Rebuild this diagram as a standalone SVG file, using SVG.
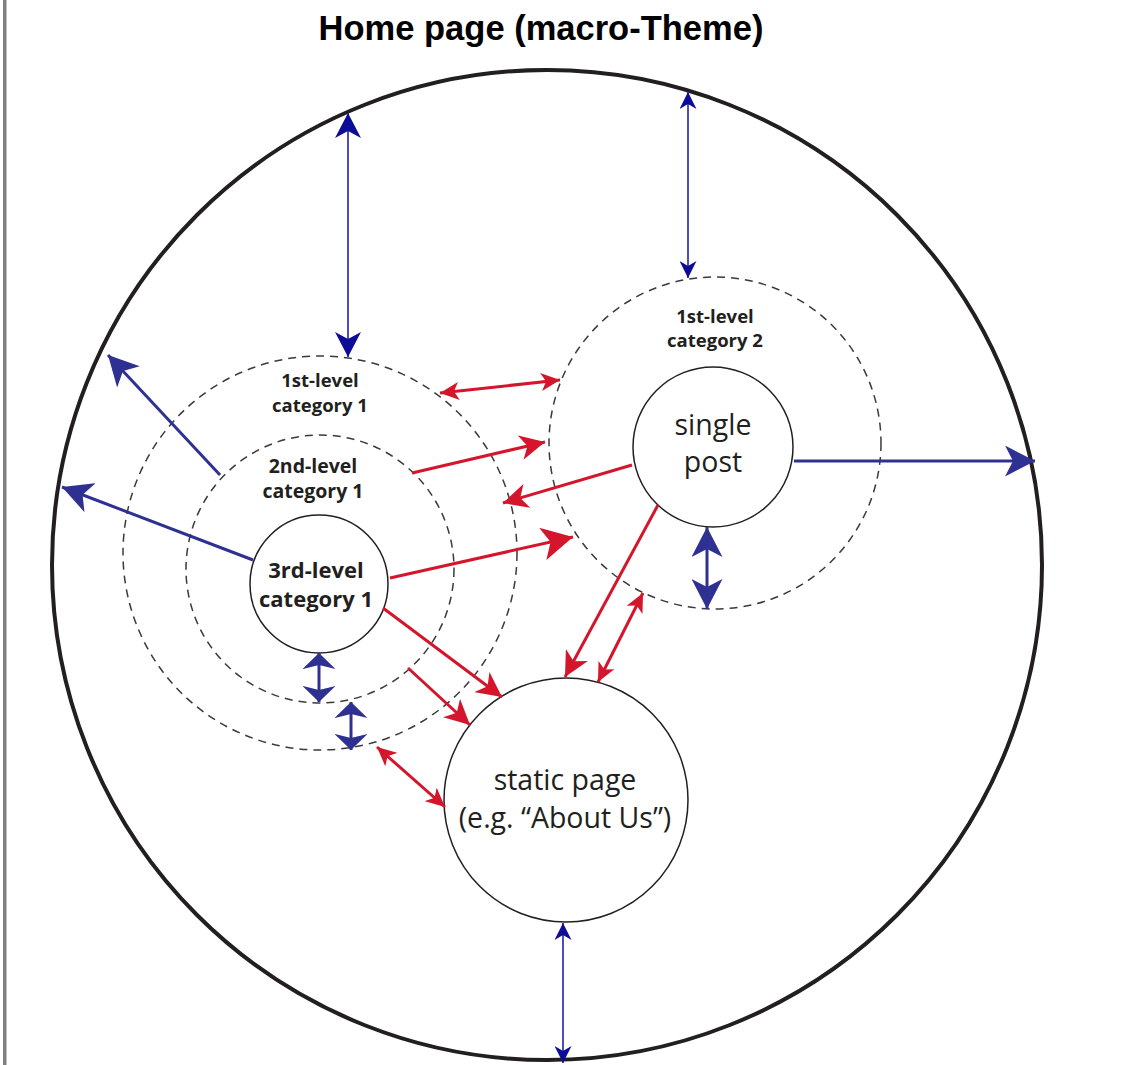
<svg xmlns="http://www.w3.org/2000/svg" width="1125" height="1065" viewBox="0 0 1125 1065">
<style>
.bg{fill:#ffffff}
.main{fill:none;stroke:#231f20;stroke-width:4}
.dash{fill:none;stroke:#3a3a3a;stroke-width:1.5;stroke-dasharray:8 6}
.node{fill:#ffffff;stroke:#231f20;stroke-width:1.5}
.title{font-family:"Liberation Sans",Arial,sans-serif;font-weight:bold;font-size:34.5px;fill:#000;text-anchor:middle}
.lbl{font-family:"Open Sans","Noto Sans",sans-serif;font-weight:bold;fill:#231f20;text-anchor:middle}
.reg{font-family:"Open Sans","Noto Sans",sans-serif;font-size:28.5px;fill:#231f20;text-anchor:middle}
.bt{fill:none;stroke:#2e3192;stroke-width:3}
.bn{fill:none;stroke:#3a3ab4;stroke-width:1.8}
.rd{fill:none;stroke:#d4152b;stroke-width:3}
</style>
<defs>
<marker id="bb" markerUnits="userSpaceOnUse" markerWidth="30" markerHeight="31" viewBox="0 0 30 31" refX="30" refY="15.5" orient="auto-start-reverse"><path d="M30,15.5 L0,0 L8,15.5 L0,31 Z" fill="#2e3192"/></marker>
<marker id="bs" markerUnits="userSpaceOnUse" markerWidth="16" markerHeight="33" viewBox="0 0 16 33" refX="16" refY="16.5" orient="auto-start-reverse"><path d="M16,16.5 L0,0 L4,16.5 L0,33 Z" fill="#2e3192"/></marker>
<marker id="tb" markerUnits="userSpaceOnUse" markerWidth="25" markerHeight="26" viewBox="0 0 25 26" refX="25" refY="13" orient="auto-start-reverse"><path d="M25,13 L0,0 L7,13 L0,26 Z" fill="#0c0c96"/></marker>
<marker id="ts" markerUnits="userSpaceOnUse" markerWidth="17" markerHeight="17" viewBox="0 0 17 17" refX="17" refY="8.5" orient="auto-start-reverse"><path d="M17,8.5 L0,0 L5,8.5 L0,17 Z" fill="#0c0c96"/></marker>
<marker id="rs" markerUnits="userSpaceOnUse" markerWidth="19" markerHeight="18" viewBox="0 0 19 18" refX="19" refY="9" orient="auto-start-reverse"><path d="M19,9 L0,0 L5,9 L0,18 Z" fill="#d4152b"/></marker>
<marker id="rm" markerUnits="userSpaceOnUse" markerWidth="25" markerHeight="25" viewBox="0 0 25 25" refX="25" refY="12.5" orient="auto-start-reverse"><path d="M25,12.5 L0,0 L7,12.5 L0,25 Z" fill="#d4152b"/></marker>
<marker id="rb" markerUnits="userSpaceOnUse" markerWidth="31" markerHeight="33" viewBox="0 0 31 33" refX="31" refY="16.5" orient="auto-start-reverse"><path d="M31,16.5 L0,0 L8,16.5 L0,33 Z" fill="#d4152b"/></marker>
</defs>
<rect class="bg" x="0" y="0" width="1125" height="1065"/>
<rect x="3" y="0" width="3.5" height="1065" fill="#808080"/>
<text class="title" x="541" y="40">Home page (macro-Theme)</text>

<g id="home-page">
<circle class="main" cx="547" cy="565" r="495"/>
</g>

<g id="cat1-level1">
<circle class="dash" cx="320" cy="553" r="197"/>
<text class="lbl" font-size="18.5" x="320" y="387">1st-level</text>
<text class="lbl" font-size="18.5" x="320" y="412">category 1</text>
</g>

<g id="cat1-level2">
<circle class="dash" cx="320" cy="569" r="134"/>
<text class="lbl" font-size="19.5" x="313" y="473">2nd-level</text>
<text class="lbl" font-size="19.5" x="313" y="498">category 1</text>
</g>

<g id="cat1-level3">
<circle class="node" cx="319" cy="584" r="69"/>
<text class="lbl" font-size="22" x="316" y="578">3rd-level</text>
<text class="lbl" font-size="22" x="316" y="607">category 1</text>
</g>

<g id="cat2-level1">
<circle class="dash" cx="715" cy="443" r="166"/>
<text class="lbl" font-size="18.5" x="715" y="323">1st-level</text>
<text class="lbl" font-size="18.5" x="715" y="347">category 2</text>
</g>

<g id="single-post">
<circle class="node" cx="713" cy="447" r="80"/>
<text class="reg" font-size="29" x="713" y="435">single</text>
<text class="reg" font-size="29" x="713" y="472">post</text>
</g>

<g id="static-page">
<circle class="node" cx="566" cy="800" r="122"/>
<text class="reg" x="565" y="790">static page</text>
<text class="reg" x="565" y="828">(e.g. “About Us”)</text>
</g>

<g id="connectors">
<path class="bn" d="M348,113 L348,357" marker-start="url(#tb)" marker-end="url(#tb)"/>
<path class="bn" d="M688,92 L688,278" marker-start="url(#ts)" marker-end="url(#ts)"/>
<path class="bn" d="M563,923 L563,1063" marker-start="url(#ts)" marker-end="url(#ts)"/>
<path class="bt" d="M220,475 L108,355" marker-end="url(#bb)"/>
<path class="bt" d="M253,560 L62,487" marker-end="url(#bb)"/>
<path class="bt" d="M794,461 L1035,461" marker-end="url(#bb)"/>
<path class="bt" d="M707,527 L707,609" marker-start="url(#bb)" marker-end="url(#bb)"/>
<path class="bt" d="M319,653 L319,702" marker-start="url(#bs)" marker-end="url(#bs)"/>
<path class="bt" d="M351,702 L351,750" marker-start="url(#bs)" marker-end="url(#bs)"/>
<path class="rd" d="M440,393 L560,380" marker-start="url(#rs)" marker-end="url(#rs)"/>
<path class="rd" d="M412,473 L545,442" marker-end="url(#rm)"/>
<path class="rd" d="M632,465 L503,503" marker-end="url(#rm)"/>
<path class="rd" d="M390,578 L573,537" marker-end="url(#rb)"/>
<path class="rd" d="M383,608 L502,697" marker-end="url(#rm)"/>
<path class="rd" d="M408,668 L470,725" marker-end="url(#rm)"/>
<path class="rd" d="M377,747 L445,807" marker-start="url(#rs)" marker-end="url(#rs)"/>
<path class="rd" d="M658,505 L565,677" marker-end="url(#rm)"/>
<path class="rd" d="M643,593 L598,682" marker-start="url(#rs)" marker-end="url(#rs)"/>
</g>
</svg>
